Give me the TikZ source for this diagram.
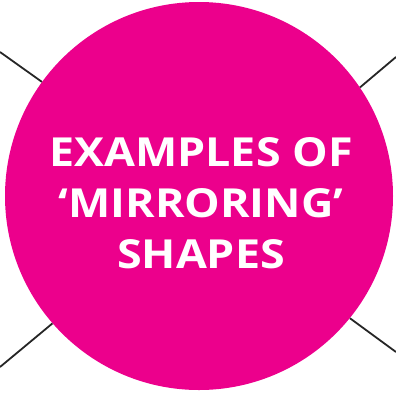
\documentclass[tikz,border=0pt]{standalone}
\usepackage{fontspec}
\setmainfont{Open Sans}
\usepackage{tikz}
\definecolor{discPink}{RGB}{236, 0, 140}

\begin{document}
\begin{tikzpicture}[x=1pt, y=-1pt]
        \useasboundingbox (0,0) rectangle (396,392);
        \node[circle, fill=discPink, minimum size=388pt, inner sep=0pt] (disc) at (199,196) {};
        % spokes leaving the disc
        \coordinate (tl) at (0,52);
        \coordinate (tr) at (396,57);
        \coordinate (bl) at (0,367);
        \coordinate (br) at (396,352);
        \draw[line width=1.8pt, black!85] (tl) -- (disc.144);
        \draw[line width=1.8pt, black!85] (tr) -- (disc.34);
        \draw[line width=1.8pt, black!85] (bl) -- (disc.221);
        \draw[line width=1.8pt, black!85] (br) -- (disc.-39);
        \node[text=white, font=\bfseries\fontsize{40}{51}\selectfont, align=center, xscale=1.12] (title) at (201,203)
          {EXAMPLES OF\\‘MIRRORING’\\SHAPES};
      \end{tikzpicture}
\end{document}
